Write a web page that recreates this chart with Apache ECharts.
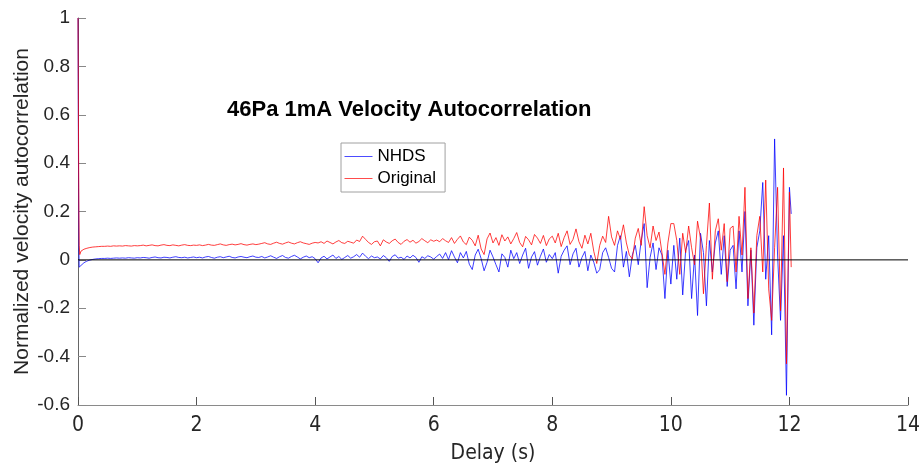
<!DOCTYPE html>
<html>
<head>
<meta charset="utf-8">
<script src="https://cdn.jsdelivr.net/npm/echarts@6/dist/echarts.min.js"></script>
<style>
html,body{margin:0;padding:0;background:#fff;}
#chart{width:921px;height:464px;}
</style>
</head>
<body>
<div id="chart"></div>
<script>
// ---- DATA ----
const titleText = '46Pa 1mA Velocity Autocorrelation';
const seriesNames = ['NHDS', 'Original'];
const seriesColors = ['#0000ff', '#ff0000'];
const xTicks = [0, 2, 4, 6, 8, 10, 12, 14];
const yTicks = [-0.6, -0.4, -0.2, 0, 0.2, 0.4, 0.6, 0.8, 1];

// first few lags (s), sampled finely
const headDelay = [0, 0.005, 0.01, 0.015, 0.02, 0.03, 0.04];
const headOriginal = [1, 0.75, 0.45, 0.2, 0.06, 0.022, 0.03];
const headNHDS = [1, 0.6, 0.3, 0.05, -0.03, -0.038, -0.032];

// lags 0.05 s .. 12.00 s, every 0.05 s (one row per second)
const gridStep = 0.05;
const originalVals = [
  0.036,0.044,0.048,0.051,0.053,0.054,0.055,0.056,0.056,0.057, 0.056,0.058,0.057,0.058,0.057,0.059,0.058,0.057,0.059,0.058,
  0.059,0.061,0.058,0.060,0.062,0.059,0.058,0.061,0.063,0.060, 0.059,0.062,0.060,0.058,0.061,0.063,0.060,0.059,0.061,0.060,
  0.062,0.059,0.061,0.064,0.061,0.060,0.063,0.066,0.062,0.060, 0.063,0.065,0.062,0.064,0.067,0.063,0.061,0.064,0.066,0.063,
  0.065,0.068,0.071,0.066,0.064,0.069,0.073,0.068,0.065,0.070, 0.074,0.069,0.066,0.071,0.075,0.070,0.067,0.064,0.069,0.072,
  0.070,0.075,0.068,0.078,0.072,0.066,0.074,0.080,0.071,0.068, 0.077,0.073,0.069,0.082,0.076,0.098,0.085,0.072,0.064,0.075,
  0.078,0.058,0.083,0.074,0.068,0.079,0.086,0.072,0.064,0.077, 0.084,0.073,0.081,0.069,0.076,0.088,0.079,0.071,0.083,0.077,
  0.082,0.075,0.088,0.079,0.072,0.092,0.068,0.085,0.099,0.074, 0.063,0.094,0.081,0.058,0.102,0.045,0.022,0.087,0.111,0.070,
  0.092,0.060,0.104,0.078,0.095,0.066,0.088,0.113,0.072,0.054, 0.097,0.083,0.062,0.105,0.090,0.068,0.101,0.059,0.087,0.098,
  0.070,0.110,0.055,0.092,0.120,0.064,0.085,0.128,0.075,0.048, 0.102,0.066,0.110,0.035,-0.015,0.060,0.098,0.072,0.180,0.095,
  0.060,0.120,0.085,0.145,0.070,0.020,0.004,0.090,0.130,0.060, 0.220,0.100,0.050,0.140,0.080,0.115,0.030,-0.060,0.070,0.150,
  0.150,0.080,-0.060,0.110,0.030,0.140,0.050,-0.020,0.160,0.090, -0.140,0.060,0.235,-0.080,0.120,0.170,0.040,0.150,-0.090,0.130,
  0.140,-0.050,0.180,0.020,0.300,-0.160,0.050,-0.220,0.100,0.180, -0.050,0.330,-0.120,-0.250,0.050,0.300,-0.210,0.380,-0.430,0.280
];
const nhdsVals = [
  -0.025,-0.012,-0.005,-0.001,0.002,0.004,0.005,0.006,0.006,0.007, 0.006,0.007,0.008,0.007,0.008,0.007,0.009,0.008,0.007,0.009,
  0.008,0.010,0.009,0.007,0.010,0.012,0.009,0.008,0.011,0.010, 0.008,0.011,0.013,0.010,0.009,0.011,0.008,0.010,0.012,0.009,
  0.011,0.008,0.012,0.014,0.010,0.007,0.011,0.013,0.009,0.012, 0.015,0.010,0.008,0.012,0.014,0.011,0.009,0.013,0.016,0.011,
  0.010,0.014,0.008,0.012,0.017,0.011,0.006,0.013,0.018,0.010, 0.007,0.014,0.019,0.012,0.004,0.011,0.016,0.009,0.013,0.005,
  -0.012,0.008,0.015,0.004,0.012,0.020,0.006,0.014,0.002,0.010, 0.018,0.007,0.013,0.022,0.011,0.028,0.015,0.005,0.016,0.009,
  0.012,0.004,0.018,0.009,-0.006,0.014,0.021,0.007,0.011,0.002, 0.016,0.008,0.019,0.010,-0.010,0.013,0.006,0.017,0.012,0.003,
  0.014,0.024,0.006,0.030,0.001,0.038,0.012,-0.012,0.030,0.008, 0.035,-0.018,-0.040,0.020,0.044,0.005,-0.045,-0.010,0.040,0.012,
  -0.020,-0.050,0.025,0.010,-0.030,0.040,0.005,0.030,-0.015,0.020, 0.048,-0.035,0.012,0.034,-0.022,0.015,0.045,-0.010,0.022,0.005,
  0.030,-0.055,0.015,0.040,0.058,-0.020,0.025,0.048,-0.030,0.010, 0.035,-0.045,0.020,-0.010,-0.055,-0.040,0.030,0.050,0.010,-0.035,
  -0.050,0.060,0.100,-0.030,0.035,-0.070,0.020,0.060,-0.020,0.080, 0.150,-0.115,0.010,0.070,-0.040,0.050,0.020,-0.160,0.040,-0.100,
  0.060,-0.080,0.090,-0.145,0.040,0.080,-0.160,0.020,-0.230,0.110, 0.030,-0.190,0.080,-0.050,0.070,0.120,-0.060,0.100,-0.110,0.040,
  0.060,-0.120,0.120,-0.050,0.200,-0.190,0.040,-0.270,0.050,0.120, 0.320,-0.080,0.100,-0.310,0.500,0.020,-0.250,0.100,-0.560,0.300
];
// final lag
const tailDelay = [12.03];
const tailOriginal = [-0.03];
const tailNHDS = [0.19];

// zero reference line
const zeroLine = [[0, 0], [14, 0]];

// ---- BUILD ----
function build(head, vals, tail) {
  const out = [];
  headDelay.forEach((t, i) => out.push([t, head[i]]));
  vals.forEach((v, i) => out.push([+((i + 1) * gridStep).toFixed(2), v]));
  tailDelay.forEach((t, i) => out.push([t, tail[i]]));
  return out;
}
const nhdsData = build(headNHDS, nhdsVals, tailNHDS);
const originalData = build(headOriginal, originalVals, tailOriginal);

const axisColor = '#262626';
const sans = 'Liberation Sans, Arial, sans-serif';
const narrow = 'Liberation Sans Narrow, DejaVu Sans Condensed, Arial';
const chart = echarts.init(document.getElementById('chart'), null, {renderer: 'canvas'});
chart.setOption({
  animation: false,
  backgroundColor: '#ffffff',
  color: seriesColors,
  title: {
    text: titleText,
    left: 222, top: 94,
    textStyle: {fontFamily: sans, fontWeight: 'bold', fontSize: 22, color: '#000'}
  },
  legend: {
    data: seriesNames,
    orient: 'vertical',
    left: 341, top: 143,
    itemWidth: 28, itemHeight: 14, itemGap: 5,
    itemStyle: {opacity: 0},
    lineStyle: {width: 1, opacity: 0.7},
    padding: [5, 9, 5, 3],
    borderColor: '#a0a0a0', borderWidth: 1, backgroundColor: '#fff',
    textStyle: {fontFamily: sans, fontSize: 17, color: '#000'}
  },
  grid: {left: 78, right: 13, top: 18, bottom: 59, containLabel: false, outerBoundsMode: 'none'},
  xAxis: {
    type: 'value', min: xTicks[0], max: xTicks[xTicks.length - 1], interval: 2,
    name: 'Delay (s)', nameLocation: 'middle', nameGap: 38,
    nameTextStyle: {fontFamily: narrow, fontSize: 21, color: axisColor},
    axisLine: {show: true, onZero: false, lineStyle: {color: '#8a8a8a', width: 1}},
    axisTick: {show: true, inside: true, length: 8, lineStyle: {color: '#555'}},
    axisLabel: {margin: 10, fontFamily: narrow, fontSize: 21, color: axisColor},
    splitLine: {show: false}
  },
  yAxis: {
    type: 'value', min: yTicks[0], max: yTicks[yTicks.length - 1], interval: 0.2,
    name: 'Normalized velocity autocorrelation', nameLocation: 'middle', nameGap: 45,
    nameMoveOverlap: false,
    nameTextStyle: {fontFamily: sans, fontSize: 21, color: axisColor},
    axisLine: {show: true, onZero: false, lineStyle: {color: '#666', width: 1}},
    axisTick: {show: true, inside: true, length: 8, lineStyle: {color: '#888'}},
    axisLabel: {margin: 8, fontFamily: sans, fontSize: 19, color: axisColor,
      formatter: v => String(+v.toFixed(1))},
    splitLine: {show: false}
  },
  series: [
    {name: seriesNames[0], type: 'line', data: nhdsData, showSymbol: false, symbol: 'none',
      lineStyle: {color: seriesColors[0], width: 0.9, opacity: 0.85}, itemStyle: {color: seriesColors[0]}, z: 2},
    {name: seriesNames[1], type: 'line', data: originalData, showSymbol: false, symbol: 'none',
      lineStyle: {color: seriesColors[1], width: 0.9, opacity: 0.85}, itemStyle: {color: seriesColors[1]}, z: 3},
    {name: 'zero', type: 'line', data: zeroLine, showSymbol: false, symbol: 'none', silent: true,
      lineStyle: {color: '#000', width: 1}, itemStyle: {color: '#000'}, z: 4}
  ]
});
</script>
</body>
</html>
